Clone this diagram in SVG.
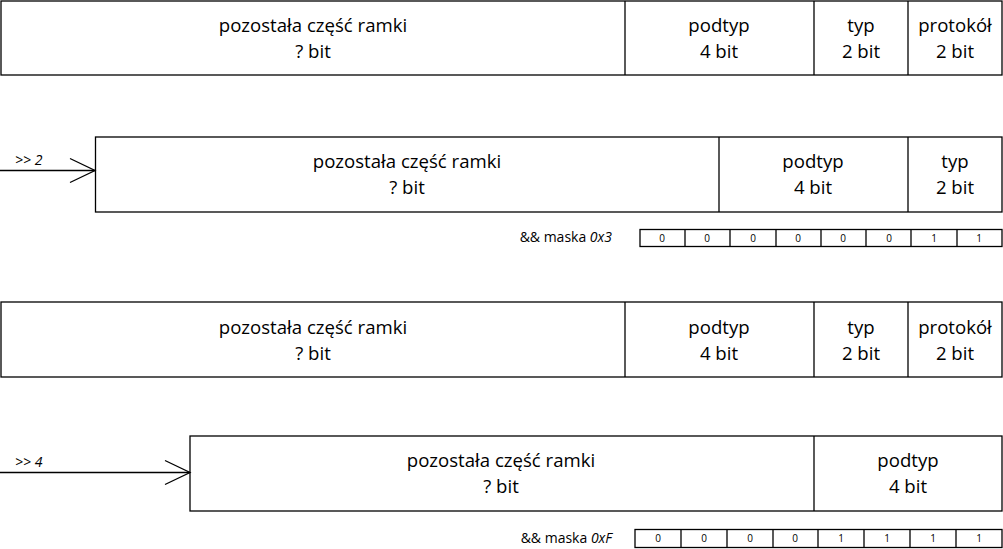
<svg xmlns="http://www.w3.org/2000/svg" width="1003" height="549" viewBox="0 0 1003 549">
<style>
.b{fill:#fff;stroke:#000;stroke-width:1.3}
.d{stroke:#000;stroke-width:1.3}
.t{font-family:"Open Sans","Liberation Sans",Arial,sans-serif;font-size:18.6px;fill:#000;text-anchor:middle}
.m{font-family:"Open Sans","Liberation Sans",Arial,sans-serif;font-size:14px;fill:#000;text-anchor:end}
.s{font-family:"Open Sans","Liberation Sans",Arial,sans-serif;font-size:14px;font-style:italic;fill:#000}
.c{font-family:"Open Sans","Liberation Sans",Arial,sans-serif;font-size:10px;fill:#000;text-anchor:middle}
.a{stroke:#000;stroke-width:1.3;fill:none}
</style>
<rect width="1003" height="549" fill="#fff"/>
<g id="frame1">
<rect class="b" x="1" y="1" width="1001" height="74"/>
<line class="d" x1="625" y1="1" x2="625" y2="75"/>
<line class="d" x1="814" y1="1" x2="814" y2="75"/>
<line class="d" x1="908" y1="1" x2="908" y2="75"/>
<text class="t" x="313" y="32">pozostała część ramki</text><text class="t" x="313" y="58">? bit</text>
<text class="t" x="719" y="32">podtyp</text><text class="t" x="719" y="58">4 bit</text>
<text class="t" x="861" y="32">typ</text><text class="t" x="861" y="58">2 bit</text>
<text class="t" x="955" y="32">protokół</text><text class="t" x="955" y="58">2 bit</text>
</g>
<g id="frame2">
<rect class="b" x="95.5" y="137" width="906.5" height="75"/>
<line class="d" x1="719" y1="137" x2="719" y2="212"/>
<line class="d" x1="908" y1="137" x2="908" y2="212"/>
<text class="t" x="407" y="168">pozostała część ramki</text><text class="t" x="407" y="194">? bit</text>
<text class="t" x="813" y="168">podtyp</text><text class="t" x="813" y="194">4 bit</text>
<text class="t" x="955" y="168">typ</text><text class="t" x="955" y="194">2 bit</text>
</g>
<g id="mask1">
<text class="m" x="612" y="242">&amp;&amp; maska <tspan font-style="italic">0x3</tspan></text>
<rect class="b" x="640" y="229.5" width="362" height="17" stroke-width="1"/>
<g class="d" stroke-width="1">
<line x1="685" y1="229.5" x2="685" y2="246.5"/><line x1="730" y1="229.5" x2="730" y2="246.5"/><line x1="776" y1="229.5" x2="776" y2="246.5"/><line x1="821" y1="229.5" x2="821" y2="246.5"/><line x1="866" y1="229.5" x2="866" y2="246.5"/><line x1="911" y1="229.5" x2="911" y2="246.5"/><line x1="957" y1="229.5" x2="957" y2="246.5"/>
</g>
<text class="c" x="662" y="241.5">0</text><text class="c" x="707" y="241.5">0</text><text class="c" x="753" y="241.5">0</text><text class="c" x="798" y="241.5">0</text><text class="c" x="843" y="241.5">0</text><text class="c" x="889" y="241.5">0</text><text class="c" x="934" y="241.5">1</text><text class="c" x="979" y="241.5">1</text>
</g>
<g id="frame3">
<rect class="b" x="1" y="302" width="1001" height="75"/>
<line class="d" x1="625" y1="302" x2="625" y2="377"/>
<line class="d" x1="814" y1="302" x2="814" y2="377"/>
<line class="d" x1="908" y1="302" x2="908" y2="377"/>
<text class="t" x="313" y="334">pozostała część ramki</text><text class="t" x="313" y="360">? bit</text>
<text class="t" x="719" y="334">podtyp</text><text class="t" x="719" y="360">4 bit</text>
<text class="t" x="861" y="334">typ</text><text class="t" x="861" y="360">2 bit</text>
<text class="t" x="955" y="334">protokół</text><text class="t" x="955" y="360">2 bit</text>
</g>
<g id="frame4">
<rect class="b" x="190" y="436" width="812" height="75"/>
<line class="d" x1="814" y1="436" x2="814" y2="511"/>
<text class="t" x="501" y="467">pozostała część ramki</text><text class="t" x="501" y="493">? bit</text>
<text class="t" x="908" y="467">podtyp</text><text class="t" x="908" y="493">4 bit</text>
</g>
<g id="mask2">
<text class="m" x="612" y="543">&amp;&amp; maska <tspan font-style="italic">0xF</tspan></text>
<rect class="b" x="635" y="529.5" width="367" height="18" stroke-width="1"/>
<g class="d" stroke-width="1">
<line x1="681" y1="529.5" x2="681" y2="547.5"/><line x1="727" y1="529.5" x2="727" y2="547.5"/><line x1="773" y1="529.5" x2="773" y2="547.5"/><line x1="818" y1="529.5" x2="818" y2="547.5"/><line x1="864" y1="529.5" x2="864" y2="547.5"/><line x1="910" y1="529.5" x2="910" y2="547.5"/><line x1="956" y1="529.5" x2="956" y2="547.5"/>
</g>
<text class="c" x="658" y="542">0</text><text class="c" x="704" y="542">0</text><text class="c" x="750" y="542">0</text><text class="c" x="795" y="542">0</text><text class="c" x="841" y="542">1</text><text class="c" x="887" y="542">1</text><text class="c" x="933" y="542">1</text><text class="c" x="979" y="542">1</text>
</g>
<g id="connectors">
<line class="a" x1="0" y1="170.5" x2="95" y2="170.5"/>
<polyline class="a" points="70,158.5 95,170.5 70,182.5"/>
<line class="a" x1="0" y1="472.5" x2="190" y2="472.5"/>
<polyline class="a" points="165,460.5 190,472.5 165,484.5"/>
</g>
<text class="s" x="15" y="165">&gt;&gt; 2</text>
<text class="s" x="15" y="467">&gt;&gt; 4</text>
</svg>
